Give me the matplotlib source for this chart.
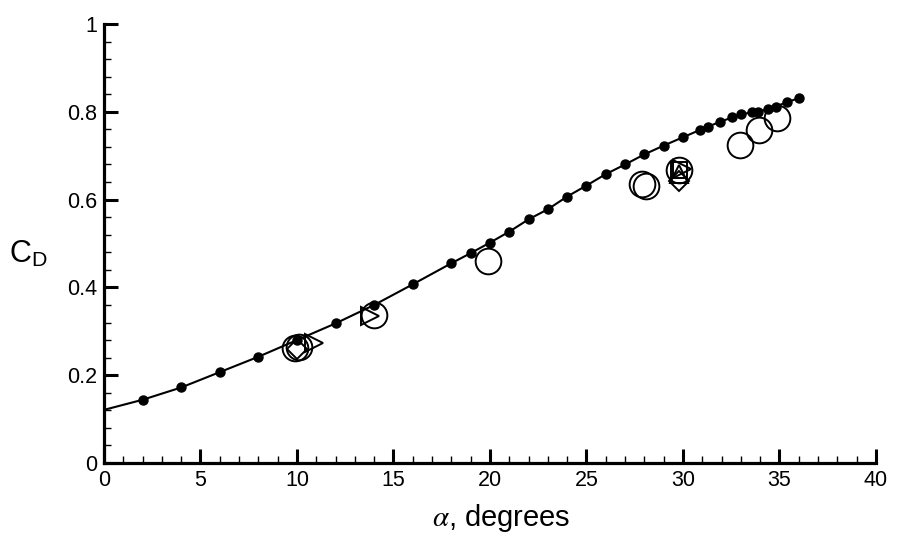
import matplotlib.pyplot as plt
from matplotlib.ticker import MultipleLocator

plt.rcParams['font.family'] = ['Liberation Sans', 'DejaVu Sans']
plt.rcParams['mathtext.fontset'] = 'stix'

# computed drag curve (line with filled dots)
calc_alpha = [2, 4, 6, 8, 10, 12, 14, 16, 18, 19, 20, 21, 22, 23, 24, 25, 26, 27,
              28, 29, 30, 30.9, 31.3, 31.9, 32.55, 33.0, 33.6, 33.9, 34.4, 34.8,
              35.4, 36.0]
calc_cd = [0.144, 0.172, 0.207, 0.242, 0.280, 0.318, 0.360, 0.407, 0.455, 0.478,
           0.502, 0.527, 0.555, 0.578, 0.607, 0.632, 0.658, 0.680, 0.703, 0.723,
           0.742, 0.759, 0.766, 0.777, 0.787, 0.794, 0.799, 0.800, 0.806, 0.812,
           0.822, 0.831]
line_alpha = [0] + calc_alpha
line_cd = [0.121] + calc_cd

# experimental points
circ_alpha = [9.9, 10.1, 14.0, 19.9, 27.85, 28.1, 29.8, 32.95, 33.94, 34.86]
circ_cd = [0.262, 0.265, 0.336, 0.461, 0.635, 0.632, 0.667, 0.724, 0.759, 0.785]
diam_alpha = [10.0, 29.8]
diam_cd = [0.260, 0.643]
rtri_alpha = [10.9, 13.8, 29.95]
rtri_cd = [0.273, 0.335, 0.670]
utri_alpha = [29.8]
utri_cd = [0.658]
sq_alpha = [29.8]
sq_cd = [0.667]

fig = plt.figure(figsize=(8.98, 5.5), dpi=100)
ax = fig.add_axes([0.1158, 0.1582, 0.8597, 0.7982])

ax.plot(line_alpha, line_cd, color='black', lw=1.5, zorder=3)
ax.plot(calc_alpha, calc_cd, 'o', color='black', ms=6.5, zorder=4)

open_style = dict(linestyle='none', mfc='none', mec='black', mew=1.4, zorder=5)
ax.plot(circ_alpha, circ_cd, marker='o', ms=18.5, **open_style)
ax.plot(diam_alpha, diam_cd, marker='D', ms=10, **open_style)
ax.plot(rtri_alpha, rtri_cd, marker='>', ms=13, **open_style)
ax.plot(utri_alpha, utri_cd, marker='^', ms=13, **open_style)
ax.plot(sq_alpha, sq_cd, marker='s', ms=11, **open_style)

ax.set_xlim(0, 40)
ax.set_ylim(0, 1)
ax.xaxis.set_major_locator(MultipleLocator(5))
ax.xaxis.set_minor_locator(MultipleLocator(1))
ax.yaxis.set_minor_locator(MultipleLocator(0.04))
ax.set_yticks([0, 0.2, 0.4, 0.6, 0.8, 1.0])
ax.set_yticklabels(['0', '0.2', '0.4', '0.6', '0.8', '1'])

for side in ['top', 'right']:
    ax.spines[side].set_visible(False)
for side in ['left', 'bottom']:
    ax.spines[side].set_linewidth(2.3)

ax.tick_params(which='major', direction='in', length=10, width=2.2,
               labelsize=15.5, pad=5)
ax.tick_params(which='minor', direction='in', length=5, width=1)

ax.set_xlabel('$\\alpha$, degrees', fontsize=21)
ax.xaxis.set_label_coords(0.514, -0.088)
ax.set_ylabel('C$_\\mathregular{D}$', fontsize=22, rotation=0)
ax.yaxis.set_label_coords(-0.098, 0.44)

fig.savefig('out.png', dpi=100)
